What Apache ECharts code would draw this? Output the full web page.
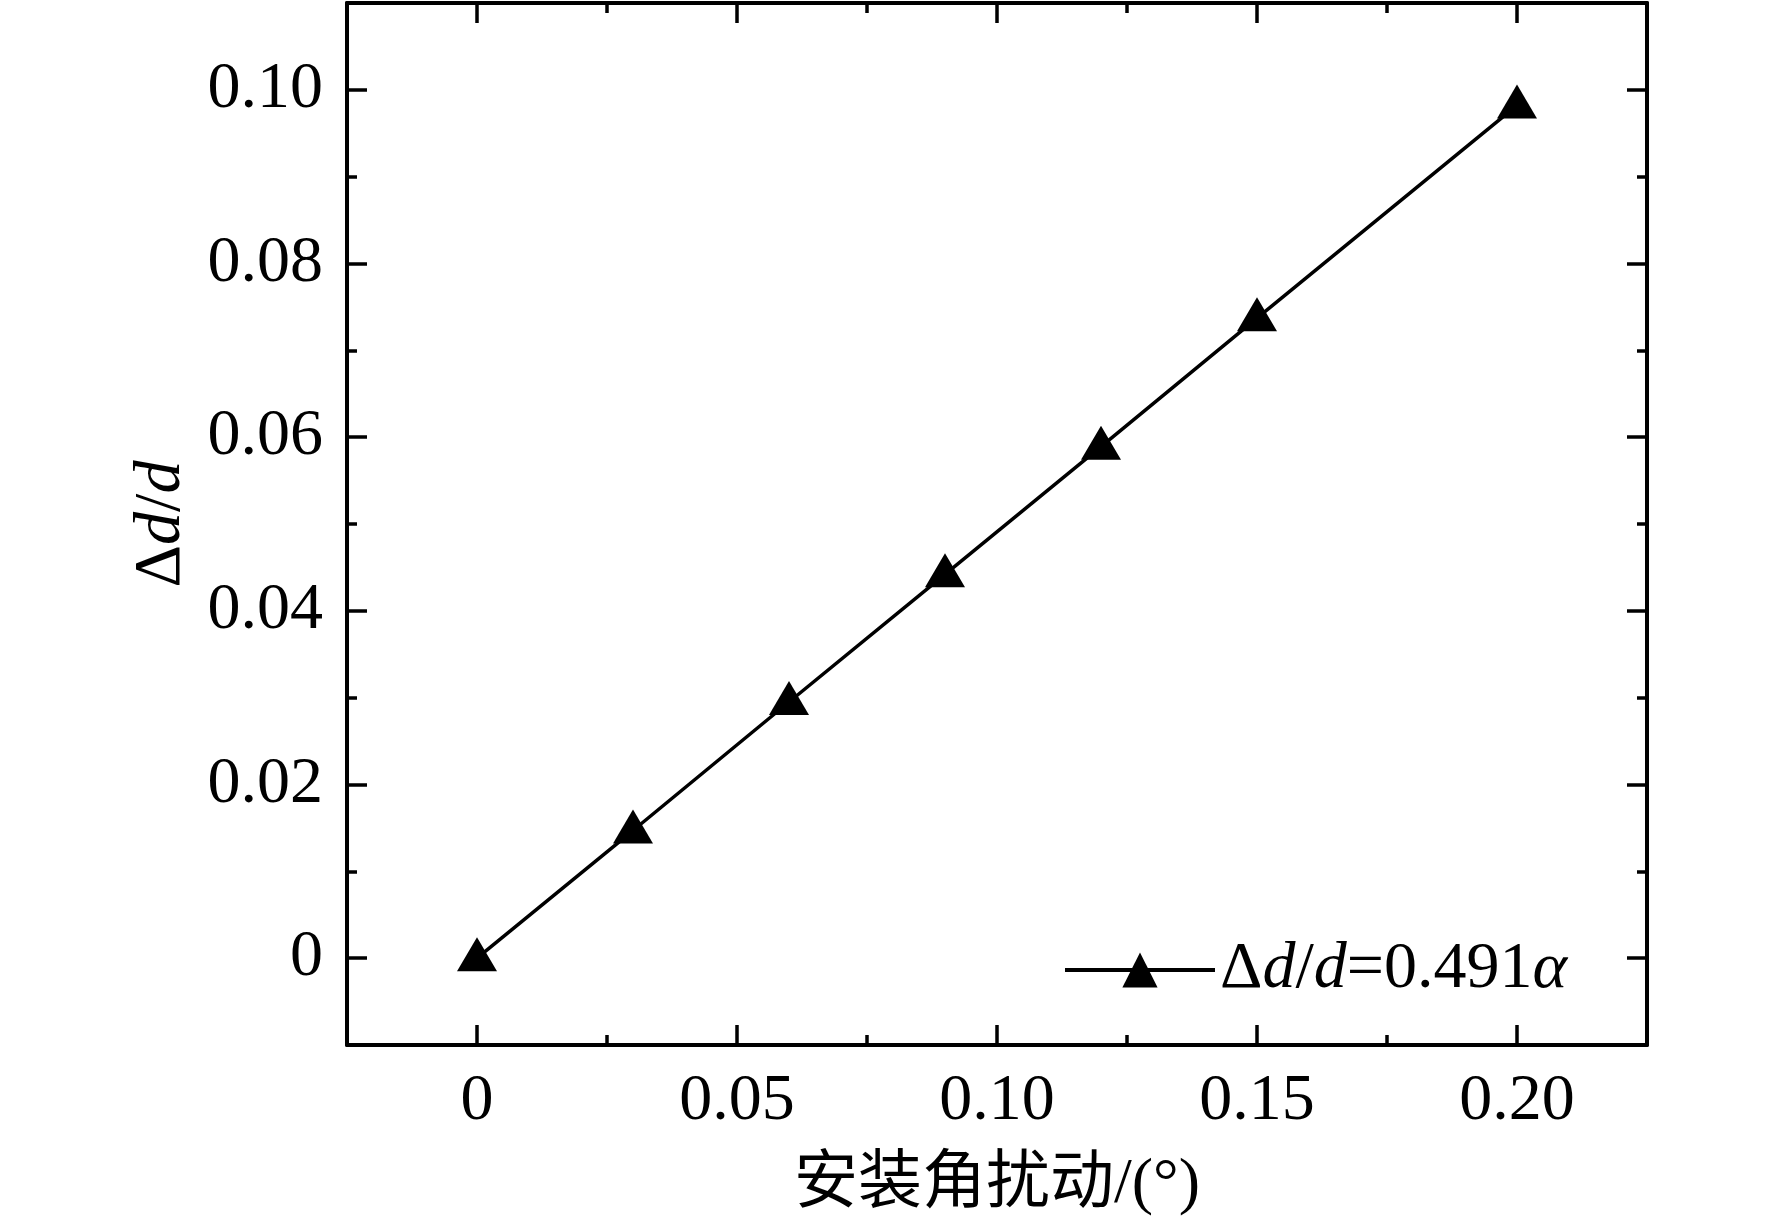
<!DOCTYPE html>
<html lang="zh">
<head>
    <meta charset="UTF-8">
    <title>安装角扰动</title>
    <script src="https://cdn.jsdelivr.net/npm/echarts@6/dist/echarts.min.js"></script>
</head>
<style>
    *{
        margin: 0;
        padding: 0;
    }
    html , body{
        overflow: hidden;
        height: 100%;
        width: 100%;
        background: #fff;
    }
    .contain{
        width: 1772px;
        height: 1222px;
    }
</style>
<body>
<div class="contain"></div>
<script>
    // 安装角扰动 α (°) 与 Δd/d
    const alpha = [0, 0.03, 0.06, 0.09, 0.12, 0.15, 0.20];
    const ratio = [0, 0.0147, 0.0295, 0.0442, 0.0589, 0.0737, 0.0982];

    const xMajor = [0, 0.05, 0.10, 0.15, 0.20];
    const xMinor = [0.025, 0.075, 0.125, 0.175];
    const yMajor = [0, 0.02, 0.04, 0.06, 0.08, 0.10];
    const yMinor = [0.01, 0.03, 0.05, 0.07, 0.09];

    const seriesName = 'Δd/d=0.491α';
    const xName = '安装角扰动/(°)';

    const font = '"Liberation Serif", "Times New Roman", "Noto Sans CJK SC", serif';
    const black = '#000';

    let chart = echarts.init(document.querySelector('.contain'));

    const fmt = v => Math.abs(v) < 1e-9 ? '0' : v.toFixed(2);

    const rich = {
        n: {fontFamily: font, fontSize: 66, color: black},
        i: {fontFamily: font, fontSize: 66, fontStyle: 'italic', color: black}
    };

    function xAxis(position, ticks, len, showLine, showLabel) {
        return {
            type: 'value',
            position: position,
            min: -0.025,
            max: 0.225,
            axisLine: {show: showLine, onZero: false, lineStyle: {color: black, width: 4}},
            axisTick: {show: true, inside: true, length: len, customValues: ticks, lineStyle: {color: black, width: 3.5}},
            axisLabel: {
                show: showLabel,
                customValues: ticks,
                margin: 24,
                formatter: fmt,
                fontFamily: font,
                fontSize: 66,
                color: black
            },
            splitLine: {show: false}
        };
    }

    function yAxis(position, ticks, len, showLine, showLabel) {
        return {
            type: 'value',
            position: position,
            min: -0.01,
            max: 0.11,
            axisLine: {show: showLine, onZero: false, lineStyle: {color: black, width: 4}},
            axisTick: {show: true, inside: true, length: len, customValues: ticks, lineStyle: {color: black, width: 3.5}},
            axisLabel: {
                show: showLabel,
                customValues: ticks,
                margin: 24,
                formatter: fmt,
                fontFamily: font,
                fontSize: 66,
                color: black
            },
            splitLine: {show: false}
        };
    }

    let xs = [
        xAxis('bottom', xMajor, 20, true, true),
        xAxis('bottom', xMinor, 10, false, false),
        xAxis('top', xMajor, 20, true, false),
        xAxis('top', xMinor, 10, false, false)
    ];
    xs[0].name = xName;
    xs[0].nameLocation = 'middle';
    xs[0].nameGap = 108;
    xs[0].nameTextStyle = {fontFamily: font, fontSize: 64, color: black};

    let ys = [
        yAxis('left', yMajor, 20, true, true),
        yAxis('left', yMinor, 10, false, false),
        yAxis('right', yMajor, 20, true, false),
        yAxis('right', yMinor, 10, false, false)
    ];
    ys[0].name = '{n|Δ}{i|d}{n|/}{i|d}';
    ys[0].nameLocation = 'middle';
    ys[0].nameGap = 152;
    ys[0].nameTextStyle = {rich: rich};

    let option = {
        animation: false,
        backgroundColor: '#fff',
        grid: {
            left: 347,
            right: 125,
            top: 3,
            bottom: 177,
            containLabel: false
        },
        legend: {
            left: 1058,
            top: 929,
            itemWidth: 150,
            itemHeight: 44,
            data: [seriesName],
            formatter: function () {
                return '{n|Δ}{i|d}{n|/}{i|d}{n|=0.491}{i|α}';
            },
            lineStyle: {width: 4, color: black},
            textStyle: {rich: rich, lineHeight: 72}
        },
        xAxis: xs,
        yAxis: ys,
        series: [{
            name: seriesName,
            type: 'line',
            xAxisIndex: 0,
            yAxisIndex: 0,
            data: alpha.map((a, i) => [a, ratio[i]]),
            symbol: 'triangle',
            symbolSize: [40, 34],
            symbolOffset: [0, -4],
            showAllSymbol: true,
            lineStyle: {color: black, width: 3.5},
            itemStyle: {color: black}
        }]
    };

    chart.setOption(option);
</script>
</body>
</html>
